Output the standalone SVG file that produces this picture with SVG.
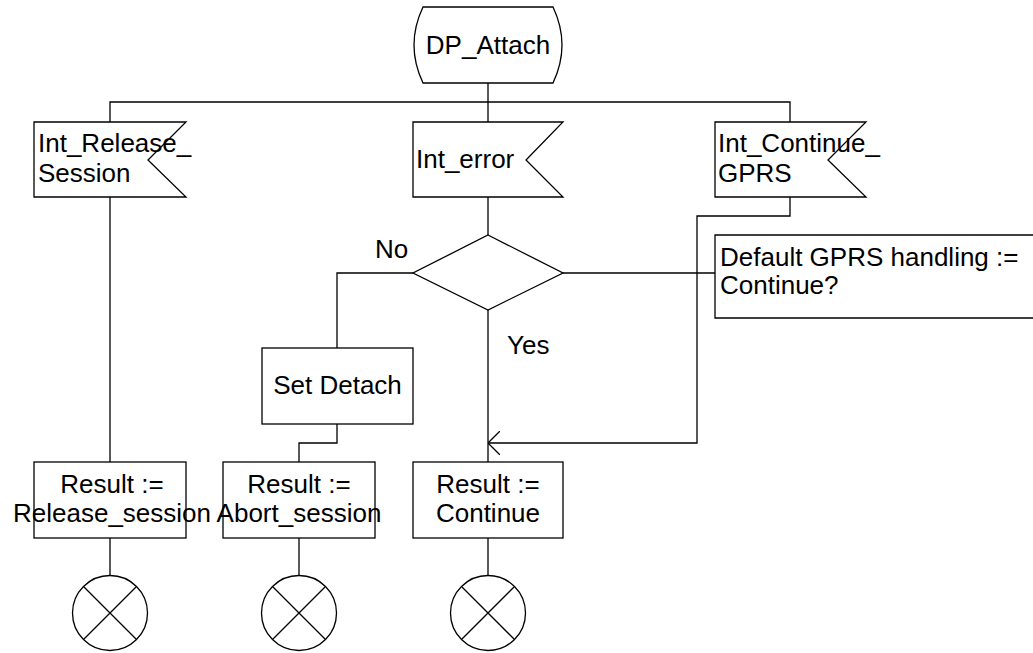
<svg xmlns="http://www.w3.org/2000/svg" width="1033" height="653" viewBox="0 0 1033 653">
  <defs>
    <style>
      .shape { fill: #fff; stroke: #000; stroke-width: 1.3; }
      .wire { fill: none; stroke: #000; stroke-width: 1.3; }
      .lbl { font-family: "Liberation Sans", Arial, sans-serif; font-size: 26px; fill: #000; }
      .mid { text-anchor: middle; }
    </style>
    <!-- open V arrowhead, tip at the end of the line -->
    <marker id="open" viewBox="0 0 12 24" refX="12" refY="12" markerWidth="12" markerHeight="24" markerUnits="userSpaceOnUse" orient="auto">
      <path d="M0,0 L12,12 L0,24" fill="none" stroke="#000" stroke-width="1.3"/>
    </marker>
  </defs>
  <rect width="1033" height="653" fill="#fff"/>

  <!-- connectors -->
  <g id="connectors">
    <path class="wire" d="M488,83 V102"/>
    <path class="wire" d="M110,122 V102 H790 V122"/>
    <path class="wire" d="M488,102 V122"/>
    <path class="wire" d="M110,197 V462"/>
    <path class="wire" d="M488,197 V235"/>
    <path class="wire" d="M413,273 H337 V348"/>
    <path class="wire" d="M563,273 H715"/>
    <path class="wire" d="M488,310 V462"/>
    <path class="wire" d="M337,424 V443 H299 V462"/>
    <path class="wire" d="M790,197 V216 H697 V443 H488" marker-end="url(#open)"/>
    <path class="wire" d="M110,538 V575"/>
    <path class="wire" d="M299,538 V575"/>
    <path class="wire" d="M488,538 V575"/>
  </g>

  <!-- start -->
  <g id="start">
    <path class="shape" d="M423,7 H553 Q571,45 553,83 H423 Q405,45 423,7 Z"/>
    <text class="lbl mid" x="488" y="54">DP_Attach</text>
  </g>

  <!-- inputs -->
  <g id="in-release">
    <path class="shape" d="M34,122 H186 L148,160 L186,197 H34 Z"/>
    <text class="lbl" x="38" y="152">Int_Release_</text>
    <text class="lbl" x="38" y="182">Session</text>
  </g>
  <g id="in-error">
    <path class="shape" d="M413,122 H563 L526,160 L563,197 H413 Z"/>
    <text class="lbl" x="416" y="168">Int_error</text>
  </g>
  <g id="in-continue">
    <path class="shape" d="M715,122 H866 L828,160 L866,197 H715 Z"/>
    <text class="lbl" x="718" y="152">Int_Continue_</text>
    <text class="lbl" x="718" y="182">GPRS</text>
  </g>

  <!-- decision -->
  <g id="decision">
    <path class="shape" d="M488,235 L563,273 L488,310 L413,273 Z"/>
    <text class="lbl" x="375" y="258">No</text>
    <text class="lbl" x="507" y="354">Yes</text>
  </g>
  <g id="comment">
    <path class="wire" d="M1040,235 H715 V318 H1040"/>
    <text class="lbl" x="720" y="266">Default GPRS handling :=</text>
    <text class="lbl" x="720" y="294">Continue?</text>
  </g>

  <!-- tasks -->
  <g id="set-detach">
    <rect class="shape" x="262" y="348" width="151" height="76"/>
    <text class="lbl mid" x="337.5" y="394">Set Detach</text>
  </g>
  <g id="res-release">
    <rect class="shape" x="34" y="462" width="152" height="76"/>
    <text class="lbl mid" x="112" y="493">Result :=</text>
    <text class="lbl mid" x="112" y="522">Release_session</text>
  </g>
  <g id="res-abort">
    <rect class="shape" x="223" y="462" width="152" height="76"/>
    <text class="lbl mid" x="299" y="493">Result :=</text>
    <text class="lbl mid" x="299" y="522">Abort_session</text>
  </g>
  <g id="res-continue">
    <rect class="shape" x="413" y="462" width="150" height="76"/>
    <text class="lbl mid" x="488" y="493">Result :=</text>
    <text class="lbl mid" x="488" y="522">Continue</text>
  </g>

  <!-- stops -->
  <g id="stop-1">
    <circle class="shape" cx="110" cy="613" r="37.5"/>
    <path class="wire" d="M83.5,586.5 L136.5,639.5 M136.5,586.5 L83.5,639.5"/>
  </g>
  <g id="stop-2">
    <circle class="shape" cx="299" cy="613" r="37.5"/>
    <path class="wire" d="M272.5,586.5 L325.5,639.5 M325.5,586.5 L272.5,639.5"/>
  </g>
  <g id="stop-3">
    <circle class="shape" cx="488" cy="613" r="37.5"/>
    <path class="wire" d="M461.5,586.5 L514.5,639.5 M514.5,586.5 L461.5,639.5"/>
  </g>
</svg>
